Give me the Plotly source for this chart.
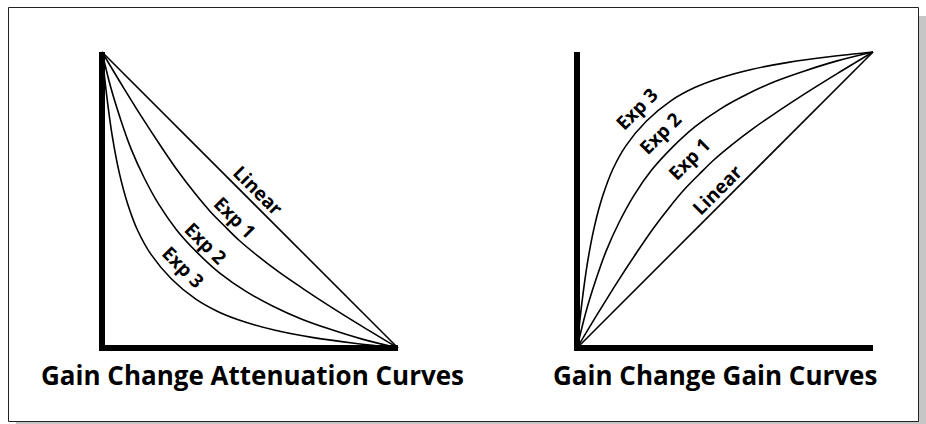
import plotly.graph_objects as go

W, H = 926, 424

# ---------------- data (normalised 0..1 on both axes) ----------------
series_names = ["Linear", "Exp 1", "Exp 2", "Exp 3"]

# Attenuation curves (left panel)
att_linear_x = [0, 1]
att_linear_y = [1, 0]
att_exp1_x = [0, 0.073, 0.139, 0.200, 0.257, 0.312, 0.364, 0.413, 0.463, 0.525, 0.597, 0.680, 0.773, 0.879, 1]
att_exp1_y = [1, 0.879, 0.773, 0.680, 0.597, 0.525, 0.463, 0.413, 0.364, 0.312, 0.257, 0.200, 0.139, 0.073, 0]
att_exp2_x = [0, 0.030, 0.064, 0.099, 0.142, 0.192, 0.252, 0.322, 0.399, 0.485, 0.576, 0.671, 0.769, 0.879, 1]
att_exp2_y = [1, 0.879, 0.769, 0.671, 0.576, 0.485, 0.399, 0.322, 0.252, 0.192, 0.142, 0.099, 0.064, 0.030, 0]
att_exp3_x = [0, 0.016, 0.035, 0.059, 0.087, 0.121, 0.165, 0.234, 0.317, 0.396, 0.486, 0.589, 0.714, 0.852, 1]
att_exp3_y = [1, 0.852, 0.714, 0.589, 0.486, 0.396, 0.317, 0.234, 0.165, 0.121, 0.087, 0.059, 0.035, 0.016, 0]

# Gain curves (right panel)
gain_linear_x = [0, 1]
gain_linear_y = [0, 1]
gain_exp1_x = [0, 0.073, 0.139, 0.200, 0.257, 0.312, 0.364, 0.413, 0.463, 0.525, 0.597, 0.680, 0.773, 0.879, 1]
gain_exp1_y = [0, 0.121, 0.227, 0.320, 0.403, 0.475, 0.537, 0.587, 0.636, 0.688, 0.743, 0.800, 0.861, 0.927, 1]
gain_exp2_x = [0, 0.030, 0.064, 0.099, 0.142, 0.192, 0.252, 0.322, 0.399, 0.485, 0.576, 0.671, 0.769, 0.879, 1]
gain_exp2_y = [0, 0.121, 0.231, 0.329, 0.424, 0.515, 0.601, 0.678, 0.748, 0.808, 0.858, 0.901, 0.936, 0.970, 1]
gain_exp3_x = [0, 0.016, 0.035, 0.059, 0.087, 0.121, 0.165, 0.234, 0.317, 0.396, 0.486, 0.589, 0.714, 0.852, 1]
gain_exp3_y = [0, 0.148, 0.286, 0.411, 0.514, 0.604, 0.683, 0.766, 0.835, 0.879, 0.913, 0.941, 0.965, 0.984, 1]

titles = ["Gain Change Attenuation Curves", "Gain Change Gain Curves"]

# ---------------- layout helpers (pixels) ----------------
UNIT = 296.0
PAD = 0.03
def xdom(origin_px):
    a = origin_px - PAD * UNIT
    b = origin_px + (1 + PAD) * UNIT
    return [a / W, b / W]
def ydom(origin_px):
    bottom = origin_px + PAD * UNIT
    top = origin_px - (1 + PAD) * UNIT
    return [(H - bottom) / H, (H - top) / H]

LEFT_X0, RIGHT_X0, Y0 = 102, 577, 348

fig = go.Figure()
line = dict(color="black", width=1.6, shape="spline", smoothing=1.0)

left = [(att_linear_x, att_linear_y), (att_exp1_x, att_exp1_y),
        (att_exp2_x, att_exp2_y), (att_exp3_x, att_exp3_y)]
right = [(gain_linear_x, gain_linear_y), (gain_exp1_x, gain_exp1_y),
         (gain_exp2_x, gain_exp2_y), (gain_exp3_x, gain_exp3_y)]
for name, (xs, ys) in zip(series_names, left):
    fig.add_trace(go.Scatter(x=xs, y=ys, mode="lines", line=line, name=name,
                             xaxis="x", yaxis="y", showlegend=False, hoverinfo="skip"))
for name, (xs, ys) in zip(series_names, right):
    fig.add_trace(go.Scatter(x=xs, y=ys, mode="lines", line=line, name=name,
                             xaxis="x2", yaxis="y2", showlegend=False, hoverinfo="skip"))

ax = dict(range=[-PAD, 1 + PAD], visible=False, fixedrange=True)
fig.update_layout(
    width=W, height=H, autosize=False,
    margin=dict(l=0, r=0, t=0, b=0, pad=0),
    paper_bgcolor="white", plot_bgcolor="rgba(0,0,0,0)",
    xaxis=dict(ax, domain=xdom(LEFT_X0)),
    yaxis=dict(ax, domain=ydom(Y0)),
    xaxis2=dict(ax, domain=xdom(RIGHT_X0), anchor="y2"),
    yaxis2=dict(ax, domain=ydom(Y0), anchor="x2"),
)

shapes = []
def px_rect(x0, y0, x1, y1, **kw):
    return dict(type="rect", xref="paper", yref="paper",
                x0=x0 / W, x1=x1 / W, y0=1 - y1 / H, y1=1 - y0 / H, **kw)
shapes.append(px_rect(919, 16, 926, 424, fillcolor="#c6c6c6", line=dict(width=0), layer="below"))
shapes.append(px_rect(16, 422, 926, 424, fillcolor="#c6c6c6", line=dict(width=0), layer="below"))
shapes.append(px_rect(8.5, 7.5, 918.5, 421.5, fillcolor="rgba(0,0,0,0)", line=dict(color="#222", width=1), layer="below"))
for xr, yr in (("x", "y"), ("x2", "y2")):
    shapes.append(dict(type="path", xref=xr, yref=yr, path="M 0 1 L 0 0 L 1 0",
                       line=dict(color="black", width=6), layer="above"))
fig.update_layout(shapes=shapes)

FONT = "Open Sans"
ann = []
left_lbl = {"Linear": (0.530, 0.532), "Exp 1": (0.447, 0.441), "Exp 2": (0.353, 0.353), "Exp 3": (0.273, 0.272)}
right_lbl = {"Linear": (0.473, 0.534), "Exp 1": (0.380, 0.637), "Exp 2": (0.282, 0.728), "Exp 3": (0.201, 0.808)}
for name in series_names:
    x, y = left_lbl[name]
    ann.append(dict(x=x, y=y, xref="x", yref="y", text=name, showarrow=False, textangle=45,
                    font=dict(family=FONT, size=19, color="black", weight="bold"),
                    xanchor="center", yanchor="middle"))
    x, y = right_lbl[name]
    ann.append(dict(x=x, y=y, xref="x2", yref="y2", text=name, showarrow=False, textangle=-45,
                    font=dict(family=FONT, size=19, color="black", weight="bold"),
                    xanchor="center", yanchor="middle"))
for t, cx in zip(titles, (252, 715)):
    ann.append(dict(x=cx / W, y=1 - 375 / H, xref="paper", yref="paper", text=t, showarrow=False,
                    font=dict(family=FONT, size=26, color="black", weight="bold"),
                    xanchor="center", yanchor="middle"))
fig.update_layout(annotations=ann)

fig.write_html("out.html", config={"displayModeBar": False},
               post_script="document.body.style.margin='0px'; document.body.style.overflow='hidden';")
